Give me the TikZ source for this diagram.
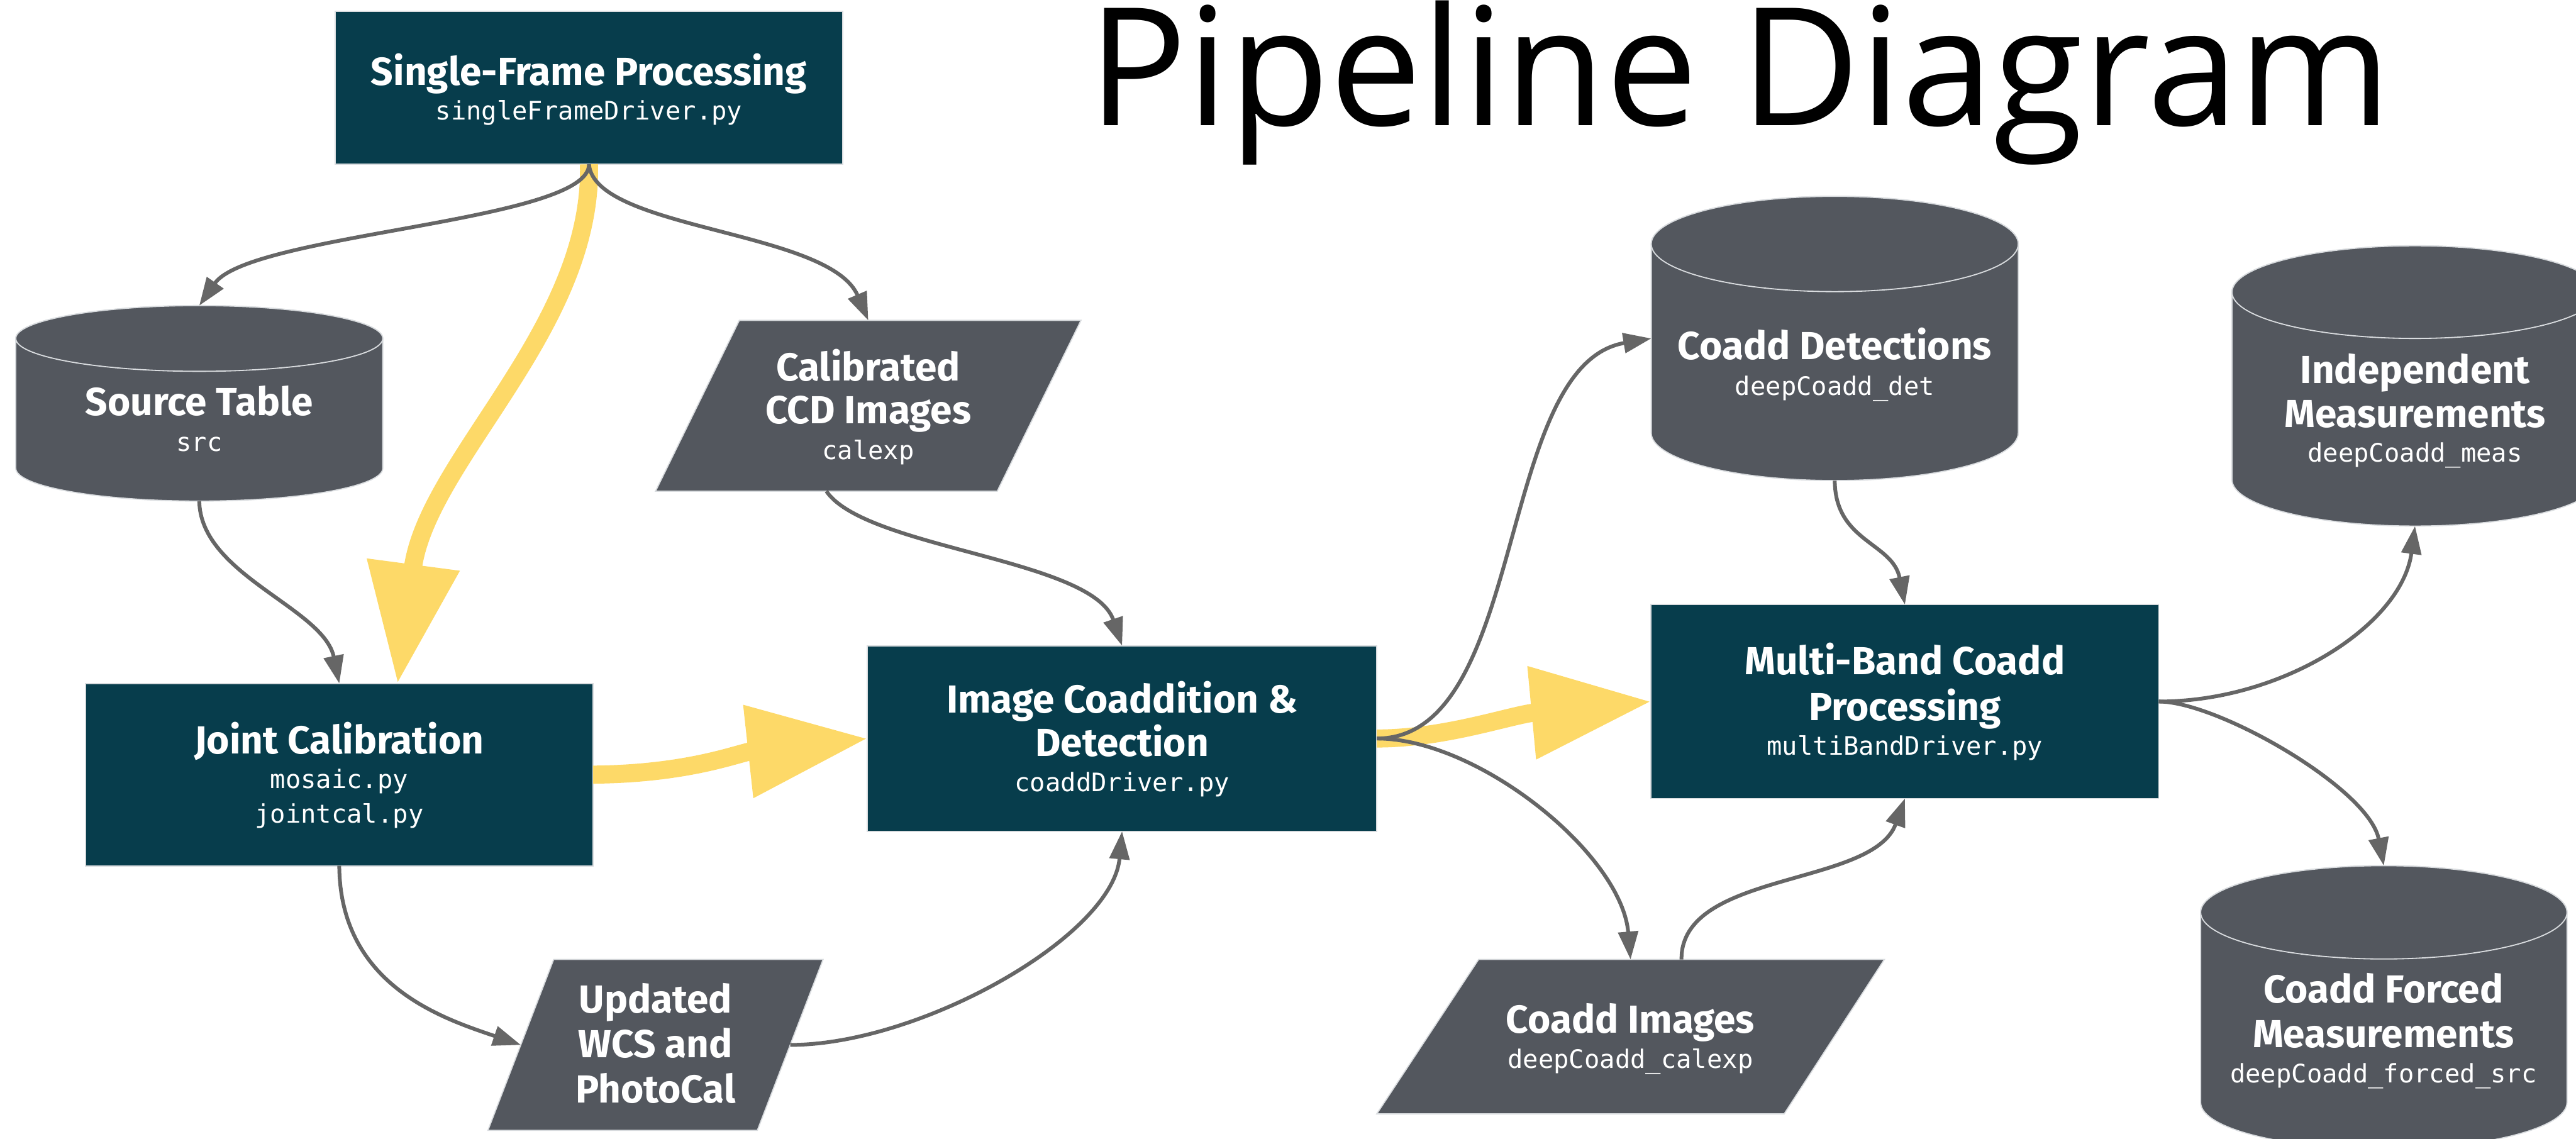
\documentclass[tikz,border=0pt]{standalone}
\usepackage{fontspec}
\usetikzlibrary{arrows.meta}
\setmainfont{Fira Sans}
\newfontfamily\labfont{Fira Sans}
\newfontfamily\codefont{DejaVu Sans Mono}
\newfontfamily\headfont{Open Sans}

\definecolor{procfill}{HTML}{073D4C}
\definecolor{datafill}{HTML}{53575E}
\definecolor{rim}{HTML}{D9DCDF}
\definecolor{edgegrey}{HTML}{666666}
\definecolor{flowyellow}{HTML}{FDD968}

\tikzset{
  every node/.style={inner sep=0pt, outer sep=0pt},
  procbox/.style={rectangle, fill=procfill, draw=rim, line width=0.7pt},
  frame/.style={rectangle, inner sep=0pt},
  datashape/.style={fill=datafill, draw=rim, line width=0.7pt},
  hd/.style={anchor=base, text=white, font=\labfont\bfseries\fontsize{23.8}{28}\selectfont},
  code/.style={anchor=base, text=white, font=\codefont\fontsize{15.5}{18}\selectfont},
  feed/.style={draw=edgegrey, line width=2.3pt, -{Triangle[length=17pt,width=12pt]}},
  mainflow/.style={draw=flowyellow, line width=11pt, -{Triangle[length=73pt,width=54pt]}},
}

% cylinder: #1 name, #2 centre x, #3 top ellipse y, #4 bottom ellipse y, #5 x radius, #6 y radius
\newcommand\datacyl[6]{%
  \path[datashape] (#2-#5,#3) -- (#2-#5,#4)
    arc[start angle=180, end angle=360, x radius=#5pt, y radius=#6pt]
    -- (#2+#5,#3)
    arc[start angle=0, end angle=180, x radius=#5pt, y radius=#6pt] -- cycle;
  \path[datashape] (#2,#3) ellipse[x radius=#5pt, y radius=#6pt];
  \node[frame, minimum width={2*#5pt}, minimum height={(#4-#3+2*#6)*1pt}]
    (#1) at ({#2},{(#3+#4)/2}) {};
}

\begin{document}
\begin{tikzpicture}[x=1pt, y=-1pt]
\useasboundingbox (0,0) rectangle (1568,693);

% title
\node[anchor=base, font=\headfont\fontsize{100}{118}\selectfont] (title) at (1059,76.5) {Pipeline Diagram};

% processing steps
\node[procbox, minimum width=309pt, minimum height=93pt] (sfp) at (358.5,53.5) {};
\node[procbox, minimum width=309pt, minimum height=111pt] (jc) at (206.5,471.5) {};
\node[procbox, minimum width=310pt, minimum height=113pt] (ic) at (683,449.5) {};
\node[procbox, minimum width=309pt, minimum height=118pt] (mb) at (1159.5,427) {};

% data products stored as tables
\datacyl{src}{121.3}{206}{285}{111.7}{20}
\datacyl{cd}{1116.8}{148.5}{263.5}{111.7}{29}
\datacyl{im}{1470}{177.8}{292}{111.4}{28.2}
\datacyl{cf}{1451}{555.3}{671}{111.5}{28.4}

% data products stored as images
\node[frame, minimum width=259pt, minimum height=104pt] (cal) at (528.5,247) {};
\path[datashape] ([xshift=51pt]cal.north west) -- (cal.north east)
  -- ([xshift=-51pt]cal.south east) -- (cal.south west) -- cycle;
\node[frame, minimum width=204pt, minimum height=104pt] (wcs) at (399,636) {};
\path[datashape] ([xshift=40pt]wcs.north west) -- (wcs.north east)
  -- ([xshift=-40pt]wcs.south east) -- (wcs.south west) -- cycle;
\node[frame, minimum width=309pt, minimum height=94pt] (ci) at (992.5,631) {};
\path[datashape] ([xshift=62pt]ci.north west) -- (ci.north east)
  -- ([xshift=-61pt]ci.south east) -- (ci.south west) -- cycle;

% labels
\node[hd] (sfp-t) at (358.5,52) {Single-Frame Processing};
\node[code] (sfp-c) at (358.5,73) {singleFrameDriver.py};

\node[hd] (src-t) at (121.3,253) {Source Table};
\node[code] (src-c) at (121.3,274.6) {src};

\node[hd] (cal-t1) at (528.5,231.6) {Calibrated};
\node[hd] (cal-t2) at (528.5,258) {CCD Images};
\node[code] (cal-c) at (528.5,279.6) {calexp};

\node[hd] (jc-t) at (206.5,458.8) {Joint Calibration};
\node[code] (jc-c1) at (206.5,480) {mosaic.py};
\node[code] (jc-c2) at (206.5,501) {jointcal.py};

\node[hd] (ic-t1) at (683,433.8) {Image Coaddition \&};
\node[hd] (ic-t2) at (683,460.5) {Detection};
\node[code] (ic-c) at (683,481.9) {coaddDriver.py};

\node[hd] (wcs-t1) at (399,616.4) {Updated};
\node[hd] (wcs-t2) at (399,643.8) {WCS and};
\node[hd] (wcs-t3) at (399,671.2) {PhotoCal};

\node[hd] (cd-t) at (1116.8,218.6) {Coadd Detections};
\node[code] (cd-c) at (1116.8,240.5) {deepCoadd\_det};

\node[hd] (mb-t1) at (1159.5,410.7) {Multi-Band Coadd};
\node[hd] (mb-t2) at (1159.5,438.5) {Processing};
\node[code] (mb-c) at (1159.5,459.4) {multiBandDriver.py};

\node[hd] (im-t1) at (1470,233.3) {Independent};
\node[hd] (im-t2) at (1470,260) {Measurements};
\node[code] (im-c) at (1470,281) {deepCoadd\_meas};

\node[hd] (ci-t) at (992.4,628.8) {Coadd Images};
\node[code] (ci-c) at (992.4,650.2) {deepCoadd\_calexp};

\node[hd] (cf-t1) at (1450.8,610.4) {Coadd Forced};
\node[hd] (cf-t2) at (1450.8,637.6) {Measurements};
\node[code] (cf-c) at (1450.8,659) {deepCoadd\_forced\_src};

% main processing flow
\draw[mainflow] (sfp.south) .. controls (361,200) and (260,280) .. ([xshift=35.5pt]jc.north);
\draw[mainflow] (jc.east) .. controls (420,471) and (450,458) .. (ic.west);
\draw[mainflow] (ic.east) .. controls (880,449.5) and (920,435) .. (mb.west);

% data dependencies
\draw[feed] (sfp.south) .. controls (359,135) and (152,142) .. (src.north);
\draw[feed] (sfp.south) .. controls (362,140) and (505,140) .. (cal.north);
\draw[feed] (src.south) .. controls (122,350) and (197,370) .. (jc.north);
\draw[feed] ([xshift=-25.5pt]cal.south) .. controls (527,334) and (665,340) .. (ic.north);
\draw[feed] (jc.south) .. controls (207,600) and (270,620) .. ([xshift=20pt]wcs.west);
\draw[feed] ([xshift=-20pt]wcs.east) .. controls (560,636) and (677,570) .. (ic.south);
\draw[feed] (ic.east) .. controls (930,449.5) and (910,222) .. (cd.west);
\draw[feed] (ic.east) .. controls (900,449.5) and (987,520) .. (ci.north);
\draw[feed] ([xshift=31pt]ci.north) .. controls (1023,530) and (1140,540) .. (mb.south);
\draw[feed] (cd.south) .. controls (1117,330) and (1152,330) .. (mb.north);
\draw[feed] (mb.east) .. controls (1390,427) and (1462,380) .. (im.south);
\draw[feed] (mb.east) .. controls (1350,427) and (1442,480) .. (cf.north);
\end{tikzpicture}
\end{document}
